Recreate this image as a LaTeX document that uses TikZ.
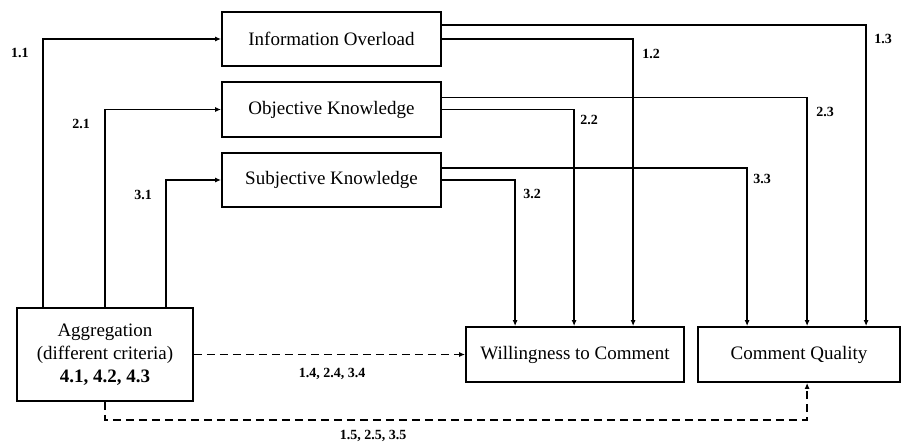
\documentclass[tikz,border=0pt]{standalone}
\usepackage{fontspec}
\setmainfont{Liberation Serif}
\usetikzlibrary{arrows.meta}
\tikzset{
  box/.style={draw, line width=1.8pt, inner sep=0pt, align=center, font=\fontsize{19}{23}\selectfont},
  conn/.style={line width=1.7pt},
  arr/.style={conn, -{Latex[length=6pt,width=5pt]}},
  dasharr/.style={arr, dash pattern=on 8pt off 5pt},
  lbl/.style={font=\fontsize{14}{16}\selectfont\bfseries, inner sep=0pt}
}
\begin{document}
\begin{tikzpicture}[x=1pt,y=-1pt]
\useasboundingbox (0,0) rectangle (903,442);
% boxes
\node[box, minimum width=219pt, minimum height=54pt] (io) at (331.5,39) {Information Overload};
\node[box, minimum width=219pt, minimum height=55pt] (ok) at (331.5,109.5) {Objective Knowledge};
\node[box, minimum width=219pt, minimum height=54pt] (sk) at (331.5,180) {Subjective Knowledge};
\node[box, minimum width=176pt, minimum height=93pt] (agg) at (105,354.5) {Aggregation\\(different criteria)\\\textbf{4.1, 4.2, 4.3}};
\node[box, minimum width=218pt, minimum height=55pt] (wc) at (575,354.5) {Willingness to Comment};
\node[box, minimum width=202pt, minimum height=55pt] (cq) at (799,354.5) {Comment Quality};
% left connectors
\draw[arr] ([xshift=27pt]agg.north west) |- (io.west);
\draw[arr] ([xshift=89pt]agg.north west) |- (ok.west);
\draw[arr] ([xshift=150pt]agg.north west) |- (sk.west);
% right connectors
\draw[arr] (io.east) -| ([xshift=168pt]wc.north west);
\draw[arr] ([yshift=14pt]io.east) -| ([xshift=169pt]cq.north west);
\draw[arr] (ok.east) -| ([xshift=109pt]wc.north west);
\draw[arr] ([yshift=12pt]ok.east) -| ([xshift=110pt]cq.north west);
\draw[arr] (sk.east) -| ([xshift=50pt]wc.north west);
\draw[arr] ([yshift=12pt]sk.east) -| ([xshift=50pt]cq.north west);
% dashed connectors
\draw[dasharr] (agg.east) -- (wc.west);
\coordinate (dc) at (105,420);
\draw[dasharr] (agg.south) -- (dc) -| ([xshift=110pt]cq.south west);
% labels
\node[lbl] (l11) at (20,53) {1.1};
\node[lbl] (l21) at (81,124) {2.1};
\node[lbl] (l31) at (143,195) {3.1};
\node[lbl] (l12) at (651,54) {1.2};
\node[lbl] (l13) at (883,39) {1.3};
\node[lbl] (l22) at (589,120) {2.2};
\node[lbl] (l23) at (825,112) {2.3};
\node[lbl] (l32) at (532,194) {3.2};
\node[lbl] (l33) at (762,179) {3.3};
\node[lbl] (l14) at (332,374) {1.4, 2.4, 3.4};
\node[lbl] (l15) at (373,436) {1.5, 2.5, 3.5};
\end{tikzpicture}
\end{document}
